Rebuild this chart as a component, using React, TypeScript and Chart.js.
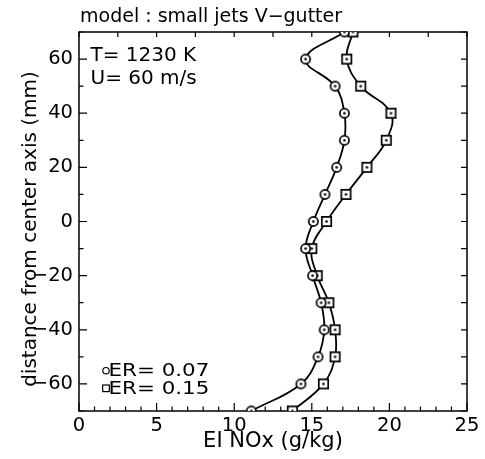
import React, { useEffect, useRef } from 'react';
import { Chart, registerables } from 'chart.js';

Chart.register(...registerables);

// ---- data ----
const DISTANCE_MM = [70, 60, 50, 40, 30, 20, 10, 0, -10, -20, -30, -40, -50, -60, -70];
const EI_NOX_ER_007 = [17.1, 14.6, 16.5, 17.1, 17.1, 16.6, 15.85, 15.1, 14.6, 15.05, 15.6, 15.8, 15.4, 14.3, 11.1];
const EI_NOX_ER_015 = [17.65, 17.25, 18.15, 20.1, 19.8, 18.55, 17.2, 15.95, 15.0, 15.35, 16.1, 16.5, 16.5, 15.75, 13.75];
const X_TICKS = [0, 5, 10, 15, 20, 25];
const Y_TICKS = [-60, -40, -20, 0, 20, 40, 60];
const SERIES_LABELS = ['ER= 0.07', 'ER= 0.15'];
const TITLE = 'model : small jets V\u2212gutter';
const NOTES = ['T= 1230 K', 'U= 60 m/s'];
const X_TITLE = 'EI NOx (g/kg)';
const Y_TITLE = 'distance from center axis (mm)';

const FONT = "'DejaVu Sans', sans-serif";

function makeMarker(kind: 'circle' | 'square'): HTMLCanvasElement {
  const c = document.createElement('canvas');
  const s = 15;
  c.width = s;
  c.height = s;
  const ctx = c.getContext('2d')!;
  ctx.fillStyle = '#fff';
  ctx.strokeStyle = '#000';
  ctx.lineWidth = 1.7;
  ctx.beginPath();
  if (kind === 'circle') {
    ctx.arc(s / 2, s / 2, 4.6, 0, Math.PI * 2);
  } else {
    ctx.rect(s / 2 - 4.7, s / 2 - 4.7, 9.4, 9.4);
  }
  ctx.fill();
  ctx.stroke();
  ctx.fillStyle = '#000';
  ctx.beginPath();
  ctx.arc(s / 2, s / 2, 1.3, 0, Math.PI * 2);
  ctx.fill();
  return c;
}

const framePlugin = {
  id: 'frameTicks',
  beforeDatasetsDraw(chart: any) {
    const { ctx, chartArea: a, scales } = chart;
    const xs = scales.x;
    const ys = scales.y;
    ctx.save();
    ctx.strokeStyle = '#000';
    ctx.lineWidth = 1.5;
    ctx.strokeRect(a.left, a.top, a.right - a.left, a.bottom - a.top);
    ctx.lineWidth = 1.2;
    ctx.beginPath();
    // bottom ticks: minor every 1, major every 5
    for (let v = 0; v <= 25; v += 1) {
      const px = xs.getPixelForValue(v);
      const len = v % 5 === 0 ? 8 : 4.5;
      ctx.moveTo(px, a.bottom);
      ctx.lineTo(px, a.bottom - len);
    }
    // top ticks every 2.5
    for (let v = 0; v <= 25; v += 2.5) {
      const px = xs.getPixelForValue(v);
      ctx.moveTo(px, a.top);
      ctx.lineTo(px, a.top + 5);
    }
    // left ticks: minor every 10, major every 20
    for (let v = -70; v <= 70; v += 10) {
      const py = ys.getPixelForValue(v);
      const len = (v + 60) % 20 === 0 ? 8 : 4.5;
      ctx.moveTo(a.left, py);
      ctx.lineTo(a.left + len, py);
    }
    // right ticks every 10
    for (let v = -70; v <= 70; v += 10) {
      const py = ys.getPixelForValue(v);
      ctx.moveTo(a.right, py);
      ctx.lineTo(a.right - 6, py);
    }
    ctx.stroke();
    ctx.restore();
  },
  afterDraw(chart: any) {
    const { ctx } = chart;
    ctx.save();
    ctx.fillStyle = '#000';
    ctx.textBaseline = 'alphabetic';
    ctx.textAlign = 'left';
    // title
    ctx.font = `19px ${FONT}`;
    ctx.fillText(TITLE, 80, 22);
    // notes
    ctx.font = `20px ${FONT}`;
    ctx.fillText(NOTES[0], 90.5, 60.7);
    ctx.fillText(NOTES[1], 90.5, 84);
    // legend markers
    ctx.strokeStyle = '#000';
    ctx.lineWidth = 1.2;
    ctx.beginPath();
    ctx.arc(106, 370.7, 3.2, 0, Math.PI * 2);
    ctx.stroke();
    ctx.strokeRect(102.7, 385, 6.6, 6.6);
    // legend labels (horizontally widened like the reference)
    ctx.font = `17px ${FONT}`;
    ctx.save();
    ctx.translate(108.5, 376.3);
    ctx.scale(1.26, 1);
    ctx.fillText(SERIES_LABELS[0], 0, 0);
    ctx.restore();
    ctx.save();
    ctx.translate(108.5, 394);
    ctx.scale(1.26, 1);
    ctx.fillText(SERIES_LABELS[1], 0, 0);
    ctx.restore();
    // y title
    ctx.font = `20px ${FONT}`;
    ctx.translate(36, 229);
    ctx.rotate(-Math.PI / 2);
    ctx.textAlign = 'center';
    ctx.fillText(Y_TITLE, 0, 0);
    ctx.restore();
  },
};

export default function App() {
  const ref = useRef<HTMLCanvasElement | null>(null);

  useEffect(() => {
    document.body.style.margin = '0';
    if (!ref.current) return;
    const circle = makeMarker('circle');
    const square = makeMarker('square');
    const chart = new Chart(ref.current, {
      type: 'scatter',
      data: {
        datasets: [
          {
            label: SERIES_LABELS[0],
            data: DISTANCE_MM.map((y, i) => ({ x: EI_NOX_ER_007[i], y })),
            showLine: true,
            borderColor: '#000',
            borderWidth: 1.8,
            tension: 0.4,
            pointStyle: circle as any,
            pointRadius: 5,
          },
          {
            label: SERIES_LABELS[1],
            data: DISTANCE_MM.map((y, i) => ({ x: EI_NOX_ER_015[i], y })),
            showLine: true,
            borderColor: '#000',
            borderWidth: 1.8,
            tension: 0.4,
            pointStyle: square as any,
            pointRadius: 5,
          },
        ],
      },
      options: {
        responsive: false,
        animation: false,
        devicePixelRatio: 1,
        layout: { padding: { left: 0, right: 18, top: 32, bottom: 0 } },
        plugins: {
          legend: { display: false },
          tooltip: { enabled: false },
          title: { display: false },
        },
        scales: {
          x: {
            type: 'linear',
            min: 0,
            max: 25,
            grid: { display: false, drawTicks: false },
            border: { display: false },
            afterBuildTicks: (scale: any) => {
              scale.ticks = X_TICKS.map((v) => ({ value: v }));
            },
            afterFit: (scale: any) => {
              scale.height = 48;
            },
            ticks: {
              color: '#000',
              padding: 3,
              maxRotation: 0,
              font: { family: FONT, size: 19.5 },
            },
            title: {
              display: true,
              text: X_TITLE,
              color: '#000',
              font: { family: FONT, size: 21 },
              padding: { top: 0, bottom: 5 },
            },
          },
          y: {
            type: 'linear',
            min: -70,
            max: 70,
            grid: { display: false, drawTicks: false },
            border: { display: false },
            afterBuildTicks: (scale: any) => {
              scale.ticks = Y_TICKS.map((v) => ({ value: v }));
            },
            afterFit: (scale: any) => {
              scale.width = 79;
            },
            ticks: {
              color: '#000',
              padding: 6,
              font: { family: FONT, size: 19.5 },
              callback: (v: any) => (v < 0 ? '\u2212' + Math.abs(v) : String(v)),
            },
          },
        },
      },
      plugins: [framePlugin],
    });
    return () => chart.destroy();
  }, []);

  return (
    <div style={{ position: 'absolute', left: 0, top: 0, width: 485, height: 459, background: '#fff' }}>
      <canvas ref={ref} width={485} height={459} />
    </div>
  );
}
